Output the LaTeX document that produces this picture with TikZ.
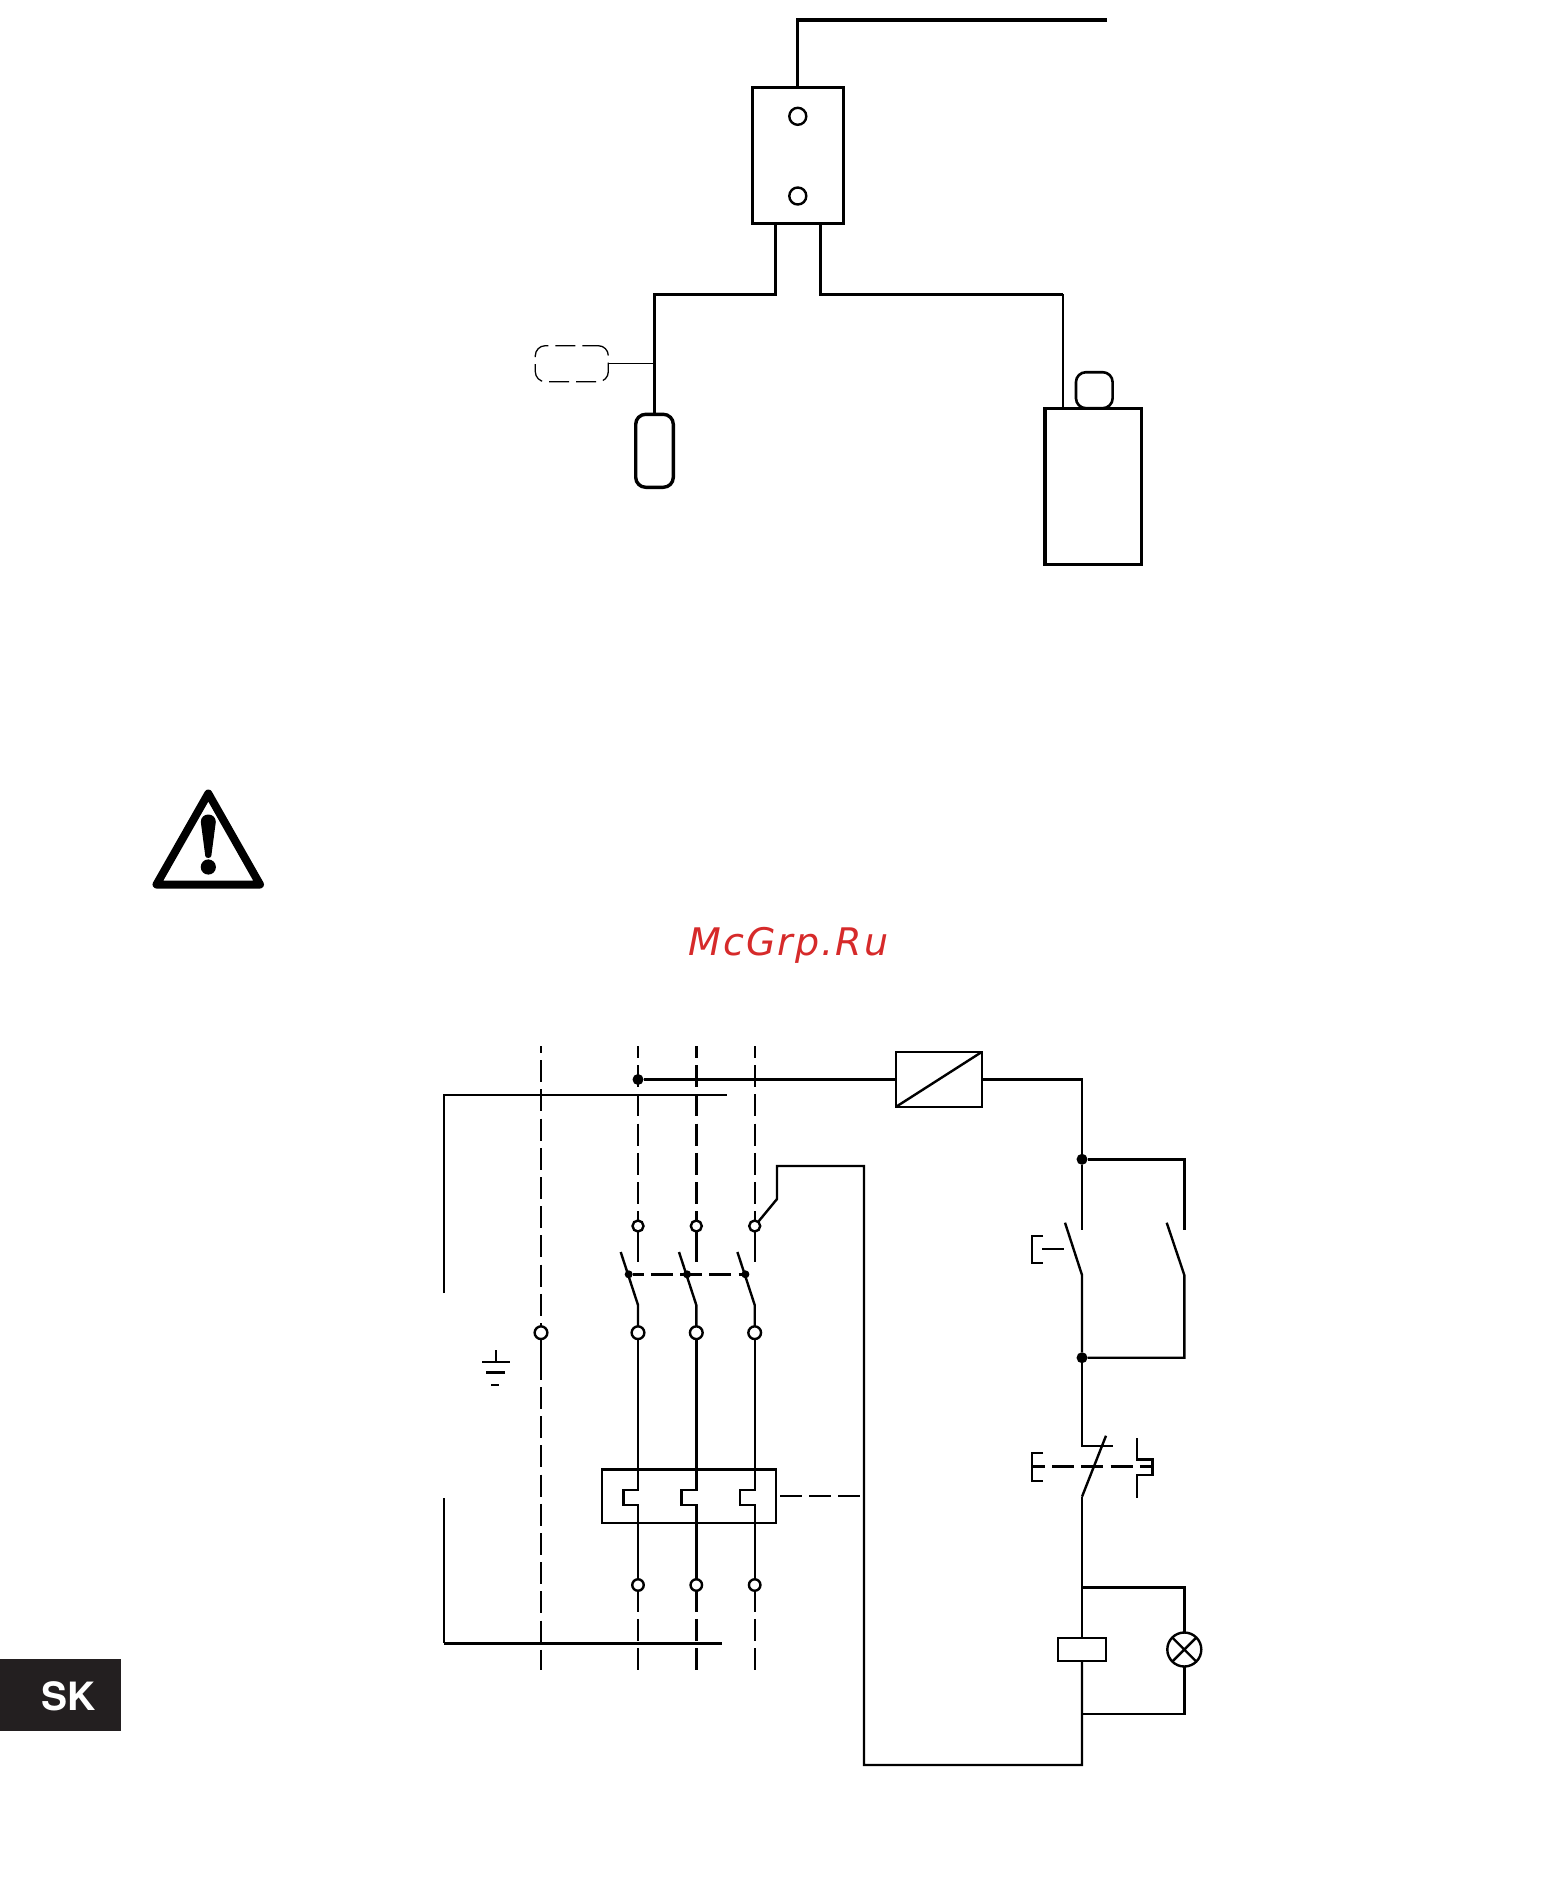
\documentclass[tikz,border=0pt]{standalone}
\usepackage{fontspec}
\newfontfamily\wmfont[LetterSpace=5.3]{DejaVu Sans}
\newfontfamily\skfont{TeX Gyre Heros}
\definecolor{skbg}{HTML}{231F20}
\definecolor{wmred}{HTML}{D62A2A}
\tikzset{
  wire/.style={line width=2.4pt,line join=miter},
  heavy/.style={line width=3.2pt,line join=miter},
  dashwire/.style={line width=2.4pt,dash pattern=on 22pt off 7.2pt},
  boxn/.style={draw,rectangle,inner sep=0pt,outer sep=0pt,fill=white},
  term/.style={draw,circle,inner sep=0pt,outer sep=0pt,fill=white,line width=2.4pt},
  joint/.style={circle,fill=black,inner sep=0pt,outer sep=0pt},
}
\begin{document}
\begin{tikzpicture}[x=1pt,y=-1pt]
\useasboundingbox (0,0) rectangle (1565,1881);
% ---------- upper figure ----------
\node[boxn,heavy,minimum width=91pt,minimum height=136pt] (ctrl) at (797.8,155.3) {};
\node[term,minimum size=17pt] (ctop) at (797.8,116.3) {};
\node[term,minimum size=17pt] (cbot) at (797.8,196) {};
\node[draw,rectangle,rounded corners=10pt,dash pattern=on 20pt off 7pt,dash phase=4pt,line width=1.3pt,inner sep=0pt,outer sep=0pt,minimum width=73pt,minimum height=36pt] (opt) at (571.8,363.7) {};
\node[draw,rectangle,rounded corners=10pt,line width=3.4pt,inner sep=0pt,outer sep=0pt,minimum width=37.6pt,minimum height=73pt] (pill) at (654.5,450.8) {};
\node[boxn,heavy,minimum width=96.7pt,minimum height=156pt] (tank) at (1093.3,486.3) {};
\node[draw,rectangle,rounded corners=10pt,line width=2.6pt,inner sep=0pt,outer sep=0pt,minimum width=36.7pt,minimum height=36pt] (cap) at (1094.3,390.2) {};
\coordinate (topend) at (1107,20);
\coordinate (topcorner) at (797.8,20);
\coordinate (legL) at (775.3,223.3);
\coordinate (legR) at (820.7,223.3);
\coordinate (kneeL) at (775.3,294.3);
\coordinate (kneeR) at (820.7,294.3);
\coordinate (cornerL) at (654.5,294.3);
\coordinate (cornerR) at (1063,294.3);
\coordinate (tee) at (654.5,363.7);
\coordinate (tanktop) at (1063,408.3);
\draw[heavy] (topend) -- (topcorner) -- (ctrl.north);
\draw[heavy] (legL) -- (kneeL) -- (cornerL) -- (pill.north);
\draw[heavy] (legR) -- (kneeR) -- (cornerR);
\draw[wire] (cornerR) -- (tanktop);
\draw[line width=1.5pt] (opt.east) -- (tee);
% ---------- warning sign ----------
\draw[line width=8pt,line join=round] (208.3,793.5) -- (260,884.5) -- (156.5,884.5) -- cycle;
\fill (200.8,822) .. controls (200.8,812) and (215.8,812) .. (215.8,822) -- (211.3,856) .. controls (210.9,858.5) and (205.7,858.5) .. (205.3,856) -- cycle;
\fill (208.3,867) circle (7.6pt);
% ---------- watermark ----------
\node[text=wmred,anchor=base,inner sep=0pt] (wm) at (788.5,955) {\wmfont\itshape\fontsize{38}{38}\selectfont McGrp.Ru};
% ---------- SK tab ----------
\node[rectangle,fill=skbg,inner sep=0pt,outer sep=0pt,minimum width=120.7pt,minimum height=71.7pt] (tab) at (60.35,1694.85) {};
\node[text=white,anchor=base,inner sep=0pt] (sk) at (68.3,1710) {\skfont\bfseries\fontsize{39}{39}\selectfont SK};
% ---------- bus bars ----------
\coordinate (busTa) at (444,1293);
\coordinate (busTb) at (444,1095);
\coordinate (busTc) at (727,1095);
\coordinate (busBa) at (444,1498);
\coordinate (busBb) at (444,1643);
\coordinate (busBc) at (722,1643);
\draw[wire] (busTa) -- (busTb) -- (busTc);
\draw[line width=2.2pt] (busBa) -- (busBb);
\draw[line width=3pt] (busBb) -- (busBc);
% ---------- neutral ----------
\node[term,minimum size=12.7pt] (n) at (541,1332.7) {};
\coordinate (nt) at (541,1046);
\coordinate (nb) at (541,1670);
\coordinate (ns) at (541,1380);
\coordinate (nd) at (541,1387);
\draw[dashwire,dash phase=15pt] (nt) -- (n.north);
\draw[wire] (n.south) -- (ns);
\draw[dashwire] (nd) -- (nb);
% ---------- earth ----------
\coordinate (ea) at (495.7,1350);
\coordinate (eb) at (495.7,1362);
\coordinate (e1l) at (482,1362); \coordinate (e1r) at (510,1362);
\coordinate (e2l) at (486,1372.3); \coordinate (e2r) at (505,1372.3);
\coordinate (e3l) at (491,1385); \coordinate (e3r) at (499,1385);
\draw[wire] (ea) -- (eb) (e1l) -- (e1r) (e2l) -- (e2r) (e3l) -- (e3r);
% ---------- thermal relay ----------
\node[boxn,minimum width=174pt,minimum height=53.4pt,line width=2.4pt] (therm) at (689,1496) {};
% ---------- three phases ----------
\foreach \i/\cx in {1/638,2/696.3,3/754.7}{
  \node[term,minimum size=11pt] (u\i) at (\cx,1226) {};
  \node[term,minimum size=12.7pt] (m\i) at (\cx,1332.7) {};
  \node[term,minimum size=11.5pt] (l\i) at (\cx,1585) {};
  \node[joint,minimum size=8pt] (j\i) at (\cx-9.3,1274.3) {};
  \coordinate (top\i) at (\cx,1046);
  \coordinate (gap\i) at (\cx,1262);
  \coordinate (bladeT\i) at (\cx-17.3,1252);
  \coordinate (bladeB\i) at (\cx,1305);
  \coordinate (bot\i) at (\cx,1670);
  \coordinate (sa\i) at (\cx,1490);
  \coordinate (sb\i) at (\cx-14.7,1490);
  \coordinate (sc\i) at (\cx-14.7,1505);
  \coordinate (sd\i) at (\cx,1505);
  \draw[dashwire,dash phase=10pt] (top\i) -- (u\i.north);
  \draw[wire] (u\i.south) -- (gap\i);
  \draw[wire] (bladeT\i) -- (bladeB\i) -- (m\i.north);
  \draw[wire] (m\i.south) -- (sa\i) -- (sb\i) -- (sc\i) -- (sd\i) -- (l\i.north);
  \draw[dashwire,dash phase=1pt] (l\i.south) -- (bot\i);
}
\draw[dashwire,dash phase=11pt] (j1) -- (j3.east);
\coordinate (thermout) at (780,1496);
\coordinate (returnin) at (860,1496);
\draw[dashwire] (thermout) -- (returnin);
% ---------- relay box and line ----------
\node[boxn,minimum width=86pt,minimum height=55pt,line width=2.4pt] (rel) at (938.7,1079.5) {};
\draw[wire] (rel.south west) -- (rel.north east);
\node[joint,minimum size=11pt] (feed) at (638,1079.5) {};
\draw[wire] (feed) -- (rel.west);
% ---------- right-hand circuit ----------
\coordinate (c1) at (1082,1079.5);
\node[joint,minimum size=11pt] (d1) at (1082,1159.3) {};
\node[joint,minimum size=11pt] (d2) at (1082,1357.7) {};
\coordinate (pt1) at (1184.3,1159.3);
\coordinate (pt2) at (1184.3,1230);
\coordinate (st1) at (1082,1230);
\coordinate (bs1) at (1065,1222.7);
\coordinate (bs2) at (1082,1275);
\coordinate (bp1) at (1166.7,1222.7);
\coordinate (bp2) at (1184.3,1275);
\coordinate (bp3) at (1184.3,1357.7);
\draw[wire] (rel.east) -- (c1) -- (d1) -- (st1);
\draw[wire] (d1) -- (pt1) -- (pt2);
\draw[wire] (bs1) -- (bs2) -- (d2);
\draw[wire] (bp1) -- (bp2) -- (bp3) -- (d2);
% start button bracket
\coordinate (bk1) at (1043,1235.7); \coordinate (bk2) at (1032,1235.7);
\coordinate (bk3) at (1032,1262.7); \coordinate (bk4) at (1043,1262.7);
\coordinate (bk5) at (1042,1249); \coordinate (bk6) at (1064,1249);
\draw[wire] (bk1) -- (bk2) -- (bk3) -- (bk4);
\draw[wire] (bk5) -- (bk6);
% stop button
\coordinate (nc1) at (1082,1445.7);
\coordinate (nc2) at (1112.7,1445.7);
\coordinate (nc3) at (1106,1435.7);
\coordinate (nc4) at (1082,1496.7);
\draw[wire] (d2) -- (nc1) -- (nc2);
\draw[wire] (nc3) -- (nc4);
\coordinate (e1) at (1043,1452.7); \coordinate (e2) at (1032,1452.7);
\coordinate (e3) at (1032,1480.7); \coordinate (e4) at (1043,1480.7);
\coordinate (e5) at (1032,1466.3); \coordinate (e6) at (1152.3,1466.3);
\draw[wire] (e1) -- (e2) -- (e3) -- (e4);
\draw[dashwire,dash phase=9pt] (e5) -- (e6);
\coordinate (h1) at (1137,1438); \coordinate (h2) at (1137,1459.3);
\coordinate (h3) at (1152.3,1459.3); \coordinate (h4) at (1152.3,1475);
\coordinate (h5) at (1137,1475); \coordinate (h6) at (1137,1497.7);
\draw[wire] (h1) -- (h2) -- (h3) -- (h4) -- (h5) -- (h6);
% coil and lamp
\node[boxn,minimum width=48pt,minimum height=23pt,line width=2.4pt] (coil) at (1082,1649.5) {};
\node[term,minimum size=34pt] (lamp) at (1184.3,1649.5) {};
\draw[wire] (lamp.45) -- (lamp.225) (lamp.135) -- (lamp.315);
\coordinate (lt) at (1082,1587.3);
\coordinate (ltr) at (1184.3,1587.3);
\coordinate (lb) at (1082,1714);
\coordinate (lbr) at (1184.3,1714);
\coordinate (rb) at (1082,1765);
\coordinate (rl) at (864,1765);
\coordinate (ru) at (864,1166);
\coordinate (k2) at (777,1166);
\coordinate (k1) at (777,1199);
\draw[wire] (nc4) -- (coil.north);
\draw[wire] (lt) -- (ltr) -- (lamp.north);
\draw[wire] (lamp.south) -- (lbr) -- (lb);
\draw[wire] (coil.south) -- (rb) -- (rl) -- (ru) -- (k2) -- (k1) -- (u3.50);
\end{tikzpicture}
\end{document}
